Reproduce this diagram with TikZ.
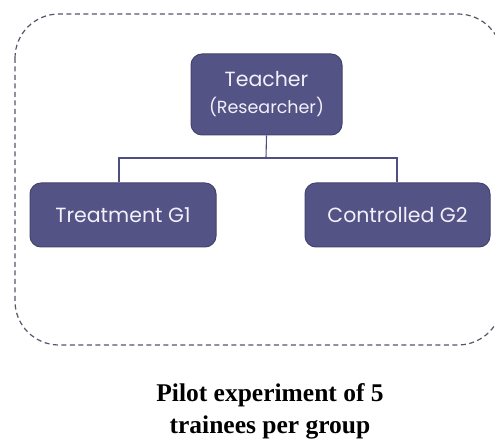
\documentclass[tikz,border=0pt]{standalone}
\usepackage{fontspec}
\setmainfont{Liberation Serif}
\newfontfamily\boxfont{Poppins}
\definecolor{boxfill}{HTML}{545386}
\definecolor{boxedge}{HTML}{44436F}
\definecolor{boxtext}{HTML}{F2F0FA}
\definecolor{dashcol}{HTML}{55556A}
\definecolor{linkcol}{HTML}{4F4E80}
\tikzset{
  stepbox/.style={draw=boxedge, line width=1pt, fill=boxfill, rounded corners=11pt,
    text=boxtext, font=\boxfont\fontsize{20.5}{24}\selectfont, align=center, inner sep=0pt},
  link/.style={draw=linkcol, line width=1.1pt},
  frame/.style={draw=dashcol, line width=1.2pt, dash pattern=on 5pt off 3.5pt, rounded corners=44pt}
}
\begin{document}
\begin{tikzpicture}[x=1pt,y=-1pt]
\clip (0,0) rectangle (495,443);
\fill[white] (0,0) rectangle (495,443);
\draw[frame] (15,14) rectangle (502,345);
\node[stepbox, minimum width=151pt, minimum height=81pt] (teacher) at (266.5,94.5)
  {Teacher\\[3pt]{\fontsize{17.5}{20}\selectfont (Researcher)}};
\node[stepbox, minimum width=186pt, minimum height=64pt] (g1) at (123,215) {Treatment G1};
\node[stepbox, minimum width=185pt, minimum height=64pt] (g2) at (397.5,215) {Controlled G2};
\coordinate (mid) at (266,158);
\draw[link] (teacher.south) -- (mid);
\draw[link] (g1.north -| 119,0) |- (mid) -| (g2.north -| 397,0);
\node[font=\bfseries\fontsize{25.5}{32}\selectfont, align=center] (cap) at (270,411)
  {Pilot experiment of 5\\trainees per group};
\end{tikzpicture}
\end{document}
